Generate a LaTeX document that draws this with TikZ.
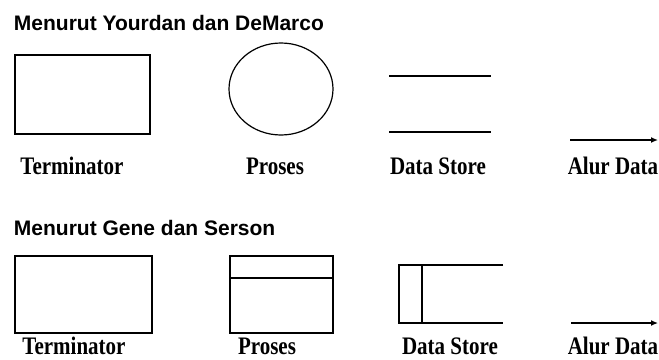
\documentclass[tikz,border=0pt]{standalone}
\usepackage{fontspec}
\setmainfont{Liberation Serif}
\setsansfont{Liberation Sans}
\usetikzlibrary{arrows.meta}
\tikzset{
  judul/.style={anchor=west,font=\sffamily\bfseries\fontsize{21}{21}\selectfont},
  ket/.style={font=\bfseries\fontsize{21}{21}\selectfont,yscale=1.2,transform shape},
  alur/.style={-{Latex[length=7pt,width=6pt]},line width=1.3pt}
}
\begin{document}
\begin{tikzpicture}[x=1pt,y=-1pt,line width=1.2pt]
  \useasboundingbox (0,0) rectangle (659,359);
  % Yourdan dan DeMarco
  \node[judul] (j1) at (10,23) {Menurut Yourdan dan DeMarco};
  \draw (15,55) rectangle (150,134);
  \draw (281,89) ellipse (52 and 46);
  \draw (389,76) -- (491,76) (389,132) -- (491,132);
  \draw[alur] (570,140) -- (658,140);
  \node[ket] (t1) at (72,166) {Terminator};
  \node[ket] (p1) at (275,166) {Proses};
  \node[ket] (d1) at (438,166) {Data Store};
  \node[ket] (a1) at (613,166) {Alur Data};
  % Gene dan Serson
  \node[judul] (j2) at (10,228) {Menurut Gene dan Serson};
  \draw (15,256) rectangle (152,333);
  \draw (230,256) rectangle (333,333) (230,278) -- (333,278);
  \draw (503,265) -- (399,265) -- (399,323) -- (503,323) (422,265) -- (422,323);
  \draw[alur] (571,323) -- (658,323);
  \node[ket] (t2) at (74,346) {Terminator};
  \node[ket] (p2) at (267,346) {Proses};
  \node[ket] (d2) at (450,346) {Data Store};
  \node[ket] (a2) at (613,346) {Alur Data};
\end{tikzpicture}
\end{document}
